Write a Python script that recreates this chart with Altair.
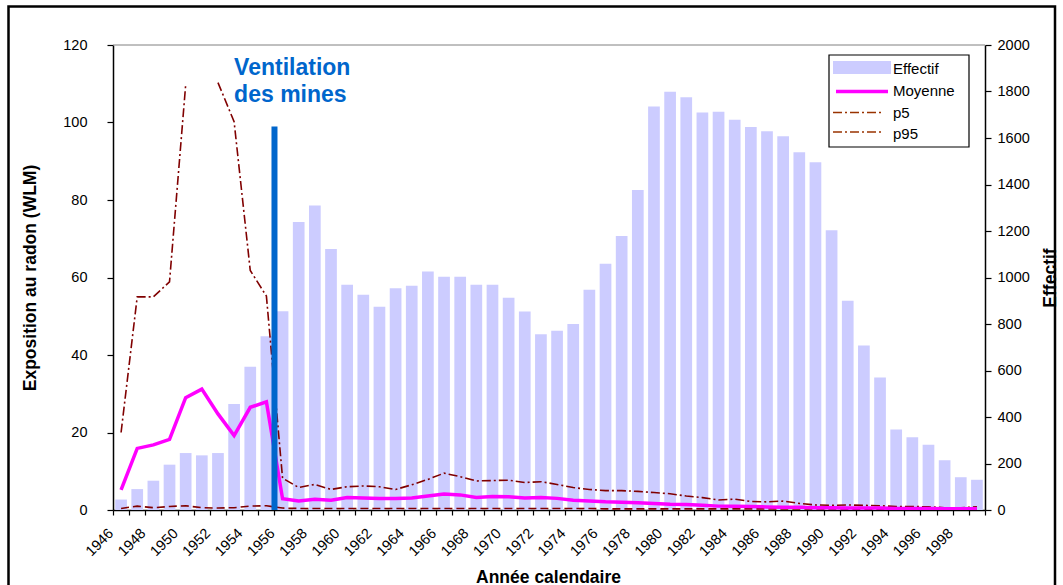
import altair as alt
import pandas as pd

# ---------------- data ----------------
years = [1946, 1947, 1948, 1949, 1950, 1951, 1952, 1953, 1954, 1955,
         1956, 1957, 1958, 1959, 1960, 1961, 1962, 1963, 1964, 1965,
         1966, 1967, 1968, 1969, 1970, 1971, 1972, 1973, 1974, 1975,
         1976, 1977, 1978, 1979, 1980, 1981, 1982, 1983, 1984, 1985,
         1986, 1987, 1988, 1989, 1990, 1991, 1992, 1993, 1994, 1995,
         1996, 1997, 1998, 1999]

effectif = [45, 90, 126, 195, 245, 235, 245, 456, 616, 747,
            855, 1239, 1310, 1123, 969, 926, 874, 954, 964, 1026,
            1003, 1003, 969, 969, 913, 854, 756, 771, 800, 947,
            1059, 1179, 1376, 1736, 1799, 1775, 1710, 1713, 1679, 1647,
            1629, 1607, 1539, 1496, 1203, 900, 707, 570, 346, 313,
            281, 214, 141, 130]

moyenne = [5.2, 15.9, 16.8, 18.2, 29.0, 31.2, 24.8, 19.2, 26.5, 27.9,
           2.9, 2.3, 2.8, 2.5, 3.2, 3.1, 3.0, 3.0, 3.1, 3.6,
           4.1, 3.9, 3.2, 3.5, 3.4, 3.1, 3.2, 3.0, 2.5, 2.3,
           2.1, 2.0, 1.9, 1.7, 1.5, 1.4, 1.2, 1.0, 0.95, 0.9,
           0.8, 0.7, 0.7, 0.6, 0.6, 0.5, 0.5, 0.5, 0.4, 0.4,
           0.4, 0.3, 0.3, 0.3]

# 1951 is off the top of the chart (not readable)
p95 = [20.0, 55.0, 55.0, 58.9, 109.7, None, 110.3, 100.2, 61.8, 55.2,
       8.2, 5.8, 6.6, 5.3, 6.0, 6.2, 6.0, 5.3, 6.5, 7.9,
       9.5, 8.6, 7.5, 7.6, 7.7, 7.1, 7.3, 6.6, 5.8, 5.3,
       5.0, 5.0, 4.8, 4.5, 4.2, 3.6, 3.2, 2.6, 2.8, 2.2,
       2.1, 2.3, 1.7, 1.3, 1.2, 1.3, 1.2, 1.1, 0.9, 0.9,
       0.8, 0.6, 0.6, 0.8]

p5 = [0.4, 1.0, 0.6, 0.9, 1.1, 0.6, 0.5, 0.6, 1.0, 1.1,
      0.5, 0.4, 0.4, 0.4, 0.4, 0.4, 0.4, 0.4, 0.4, 0.4,
      0.4, 0.4, 0.4, 0.4, 0.4, 0.4, 0.4, 0.4, 0.4, 0.4,
      0.3, 0.3, 0.3, 0.3, 0.3, 0.3, 0.3, 0.3, 0.3, 0.3,
      0.3, 0.3, 0.3, 0.3, 0.3, 0.2, 0.2, 0.2, 0.2, 0.2,
      0.2, 0.2, 0.2, 0.2]

wlm_ticks = [0, 20, 40, 60, 80, 100, 120]
eff_ticks = [0, 200, 400, 600, 800, 1000, 1200, 1400, 1600, 1800, 2000]

annot_year = 1953.0
annot_wlm = 117.0
annot_text = "Ventilation\ndes mines"
vent_year = 1955.5
vent_top = 99.0

legend_labels = ["Effectif", "Moyenne", "p5", "p95"]

df = pd.DataFrame({"annee": years, "effectif": effectif, "moyenne": moyenne,
                   "p5": p5, "p95": p95})

# ---------------- styling ----------------
FONT = "Liberation Sans"
W, H = 872, 465
BAR = "#CCCCFF"
MAG = "#FF00FF"
DRED = "#800000"
BLUE = "#0066CC"
LEG_DASH = "#993300"

x_domain = [years[0] - 0.5, years[-1] + 0.5]
boundaries = [y - 0.5 for y in years] + [years[-1] + 0.5]

x_scale = alt.Scale(domain=x_domain, nice=False, zero=False, padding=0)
wlm_scale = alt.Scale(domain=[wlm_ticks[0], wlm_ticks[-1]], nice=False, padding=0)
eff_scale = alt.Scale(domain=[eff_ticks[0], eff_ticks[-1]], nice=False, padding=0)

label_expr = (
    f"((datum.value + 0.5) % 2 == 0 && datum.value < {years[-1]}) "
    "? format(datum.value + 0.5, 'd') : ''"
)

x_axis = alt.Axis(
    values=boundaries,
    labelExpr=label_expr,
    labelAngle=-45, labelAlign="right", labelBaseline="top",
    labelOffset=-7, labelPadding=11, tickSize=5, labelFontSize=14.5,
    labelOverlap=False, labelFlush=False, labelBound=False,
    title="Année calendaire", titleFontSize=17.5, titleFontWeight="bold",
    titleX=W / 2 - 1, titleY=67, titleAlign="center", titleBaseline="middle",
    grid=False,
)

left_axis = alt.Axis(
    orient="left", values=wlm_ticks, format="d", tickSize=6, labelPadding=20,
    labelFontSize=14.5, grid=False,
    title="Exposition au radon (WLM)", titleFontSize=17.5, titleFontWeight="bold",
    titleX=-83, titleY=H / 2, titleAngle=270, titleAlign="center",
    titleBaseline="middle",
)

right_axis = alt.Axis(
    orient="right", values=eff_ticks, format="d", tickSize=6, labelPadding=6,
    labelFontSize=14.5, grid=False,
    title="Effectif", titleFontSize=17.5, titleFontWeight="bold",
    titleX=65, titleY=H / 2, titleAngle=270, titleAlign="center",
    titleBaseline="middle",
)


def xq(field):
    return alt.X(field, type="quantitative", scale=x_scale, axis=x_axis)


def yw(field):
    return alt.Y(field, type="quantitative", scale=wlm_scale, axis=left_axis)


base = alt.Chart(df)

bars = base.mark_bar(color=BAR, width=11.7).encode(
    x=xq("annee"),
    y=alt.Y("effectif:Q", scale=eff_scale, axis=right_axis),
)

p5_line = base.mark_line(color=DRED, strokeWidth=1.6, strokeDash=[8, 4], clip=True).encode(
    x=xq("annee"), y=yw("p5"))

p95_line = base.mark_line(color=DRED, strokeWidth=1.6, strokeDash=[9, 3, 2, 3], clip=True).encode(
    x=xq("annee"), y=yw("p95"))

moy_line = base.mark_line(color=MAG, strokeWidth=3.5, clip=True).encode(
    x=xq("annee"), y=yw("moyenne"))

vent_df = pd.DataFrame({"annee": [vent_year], "y0": [0.0], "y1": [vent_top]})
vent_rule = alt.Chart(vent_df).mark_rule(color=BLUE, strokeWidth=6).encode(
    x=xq("annee"), y=yw("y0"), y2="y1:Q")

annot_df = pd.DataFrame({"annee": [annot_year], "y": [annot_wlm], "t": [annot_text]})
annot = alt.Chart(annot_df).mark_text(
    align="left", baseline="top", font=FONT, fontSize=23, fontWeight="bold",
    color=BLUE, lineBreak="\n", lineHeight=27,
).encode(x=xq("annee"), y=yw("y"), text="t:N")

one = alt.Data(values=[{"k": 1}])

top_border = alt.Chart(one).mark_rule(color="#808080", strokeWidth=1).encode(
    x=alt.value(0), x2=alt.value(W), y=alt.value(0))

frame = alt.Chart(one).mark_rect(fillOpacity=0, stroke="black", strokeWidth=2.5).encode(
    x=alt.value(8.5 - 113), x2=alt.value(1055 - 113),
    y=alt.value(6.5 - 45), y2=alt.value(620 - 45))

# legend (manual)
LX0, LY0 = 716, 10
leg_box = alt.Chart(one).mark_rect(fill="white", stroke="black", strokeWidth=1.2).encode(
    x=alt.value(LX0), x2=alt.value(LX0 + 140), y=alt.value(LY0), y2=alt.value(LY0 + 92))
leg_sw = alt.Chart(one).mark_rect(color=BAR).encode(
    x=alt.value(LX0 + 4), x2=alt.value(LX0 + 62), y=alt.value(LY0 + 6), y2=alt.value(LY0 + 19))
leg_moy = alt.Chart(one).mark_rule(color=MAG, strokeWidth=3.5).encode(
    x=alt.value(LX0 + 7), x2=alt.value(LX0 + 59), y=alt.value(LY0 + 36.5))
leg_p5 = alt.Chart(one).mark_rule(color=LEG_DASH, strokeWidth=1.6, strokeDash=[9, 3, 2, 3]).encode(
    x=alt.value(LX0 + 4), x2=alt.value(LX0 + 54), y=alt.value(LY0 + 57.5))
leg_p95 = alt.Chart(one).mark_rule(color=LEG_DASH, strokeWidth=1.6, strokeDash=[9, 3, 2, 3]).encode(
    x=alt.value(LX0 + 4), x2=alt.value(LX0 + 54), y=alt.value(LY0 + 77))
leg_texts = []
for i, lab in enumerate(legend_labels):
    leg_texts.append(
        alt.Chart(one).mark_text(align="left", baseline="middle", font=FONT, fontSize=15,
                                 color="black", text=lab).encode(
            x=alt.value(LX0 + 64), y=alt.value(LY0 + 14 + i * 21.8)))

inner = alt.layer(top_border, p5_line, p95_line, moy_line, vent_rule, annot,
                  frame, leg_box, leg_sw, leg_moy, leg_p5, leg_p95, *leg_texts)

chart = alt.layer(bars, inner).resolve_scale(y="independent").properties(
    width=W, height=H,
    padding={"left": 113, "top": 45, "right": 78, "bottom": 75},
    autosize=alt.AutoSizeParams(type="none"),
    background="white",
).configure_view(stroke=None).configure_axis(
    labelFont=FONT, titleFont=FONT, labelColor="black", titleColor="black",
    domainColor="black", tickColor="black", domainWidth=1.5, tickWidth=1.2,
)

chart.save("out.html", embed_options={"renderer": "svg", "actions": False})
